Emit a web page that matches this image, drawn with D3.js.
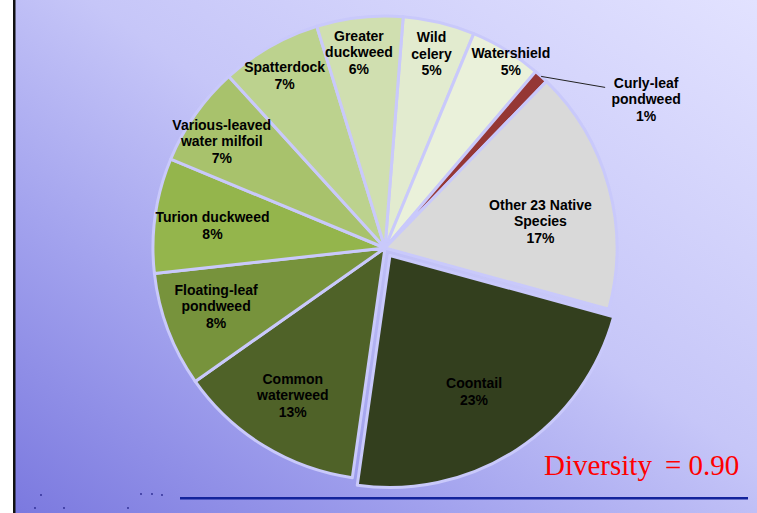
<!DOCTYPE html>
<html>
<head>
<meta charset="utf-8">
<script src="https://cdn.jsdelivr.net/npm/d3@7"></script>
<style>
  html, body { margin: 0; padding: 0; background: #ffffff; }
  svg { display: block; }
</style>
</head>
<body>
<svg id="chart" width="757" height="513"></svg>
<script>
// Species share of plant frequency (percent), clockwise from the top
const species = [
  "Wild celery", "Watershield", "Curly-leaf pondweed", "Other 23 Native Species",
  "Coontail", "Common waterweed", "Floating-leaf pondweed", "Turion duckweed",
  "Various-leaved water milfoil", "Spatterdock", "Greater duckweed"
];
const percents = [5, 5, 1, 17, 23, 13, 8, 8, 7, 7, 6];
// How each label is broken into lines
const labelLines = [
  ["Wild", "celery"], ["Watershield"], ["Curly-leaf", "pondweed"],
  ["Other 23 Native", "Species"], ["Coontail"], ["Common", "waterweed"],
  ["Floating-leaf", "pondweed"], ["Turion duckweed"],
  ["Various-leaved", "water milfoil"], ["Spatterdock"], ["Greater", "duckweed"]
];
const diversityIndex = 0.90;

// ---- layout & style ----
const W = 757, H = 513;
const cx = 385, cy = 248, R = 232;
const startDeg = 4.5;
const explodedSlice = "Coontail", explodeBy = 9;
const sliceColors = [
  "#e2ebcf", "#eaf1da", "#953735", "#d9d9d9", "#333f1e", "#4f6228",
  "#77933c", "#94b54c", "#a8c26c", "#bcd28e", "#d0dfb0"
];
// label placement: fraction of radius, angular nudge in degrees
const labelPlace = [
  [0.86, 0], [0.97, 2.5], [null, 0], [0.68, 5.5], [0.69, 1.6], [0.75, 0.5],
  [0.77, 1.7], [0.75, -0.7], [0.84, -2], [0.86, -0.5], [0.85, -1.3]
];
const lineH = 16.5;

const svg = d3.select("#chart");
const defs = svg.append("defs");

const bg = defs.append("linearGradient").attr("id", "bgGrad")
  .attr("x1", 0).attr("y1", 1).attr("x2", 1).attr("y2", 0);
[[0, "#7b79df"], [0.3, "#a3a3ee"], [0.55, "#c6c6f8"], [1, "#e2e2ff"]]
  .forEach(([o, c]) => bg.append("stop").attr("offset", o).attr("stop-color", c));

svg.append("rect").attr("x", 15).attr("y", 0).attr("width", W - 15).attr("height", H)
  .attr("fill", "url(#bgGrad)");
svg.append("rect").attr("x", 13).attr("y", 0).attr("width", 2.5).attr("height", H)
  .attr("fill", "#111");

const color = d3.scaleOrdinal().domain(species).range(sliceColors);
const pie = d3.pie().sort(null).value(d => d.v)
  .startAngle(startDeg * Math.PI / 180)
  .endAngle((startDeg + 360) * Math.PI / 180);
const data = species.map((s, i) => ({ s, v: percents[i], i }));
const arcs = pie(data);
const arc = d3.arc().innerRadius(0).outerRadius(R);

const g = svg.append("g").attr("transform", `translate(${cx},${cy})`);

function offsetOf(d) {
  if (d.data.s !== explodedSlice) return [0, 0];
  const a = (d.startAngle + d.endAngle) / 2;
  return [Math.sin(a) * explodeBy, -Math.cos(a) * explodeBy];
}

g.selectAll("path.slice").data(arcs).join("path")
  .attr("class", "slice")
  .attr("d", arc)
  .attr("transform", d => `translate(${offsetOf(d)})`)
  .attr("fill", d => color(d.data.s))
  .attr("stroke", "#c9c9fb")
  .attr("stroke-width", 3)
  .attr("stroke-linejoin", "round");

const fmt = v => `${v}%`;
const labels = g.append("g")
  .attr("font-family", "'Liberation Sans', Arial, sans-serif")
  .attr("font-weight", "bold").attr("font-size", 14).attr("fill", "#000")
  .attr("text-anchor", "middle");

arcs.forEach(d => {
  const i = d.data.i;
  const lines = labelLines[i].concat([fmt(d.data.v)]);
  let x, y;
  const [frac, nudge] = labelPlace[i];
  if (frac === null) {
    // outside label with a leader line
    const a = (d.startAngle + d.endAngle) / 2;
    const px = Math.sin(a) * R, py = -Math.cos(a) * R;
    x = px + 105; y = py + 23;
    g.append("line")
      .attr("x1", px).attr("y1", py)
      .attr("x2", x - 41).attr("y2", y - 12)
      .attr("stroke", "#222").attr("stroke-width", 1);
  } else {
    const a = (d.startAngle + d.endAngle) / 2 + nudge * Math.PI / 180;
    const [ox, oy] = offsetOf(d);
    x = Math.sin(a) * R * frac + ox;
    y = -Math.cos(a) * R * frac + oy;
  }
  const t = labels.append("text").attr("x", x).attr("y", y);
  const y0 = -(lines.length - 1) / 2 * lineH;
  lines.forEach((ln, k) => {
    t.append("tspan").attr("x", x).attr("y", y + y0 + k * lineH)
      .attr("dy", "0.35em").text(ln);
  });
});

// diversity annotation
const div = svg.append("g")
  .attr("font-family", "'Liberation Serif', 'Times New Roman', serif")
  .attr("font-size", 29).attr("fill", "#ff0000");
div.append("text").attr("x", 544).attr("y", 475).text("Diversity");
div.append("text").attr("x", 665).attr("y", 475).text(`= ${diversityIndex.toFixed(2)}`);

// footer rule
svg.append("rect").attr("x", 180).attr("y", 497).attr("width", 568).attr("height", 2.5)
  .attr("fill", "#13239b");

// faint footer specks
const specks = [[41, 495], [35, 508], [64, 508], [141, 494], [152, 494], [162, 495], [128, 508]];
svg.selectAll("circle.speck").data(specks).join("circle")
  .attr("class", "speck")
  .attr("cx", d => d[0]).attr("cy", d => d[1]).attr("r", 0.9)
  .attr("fill", "#2a2a90");
</script>
</body>
</html>
